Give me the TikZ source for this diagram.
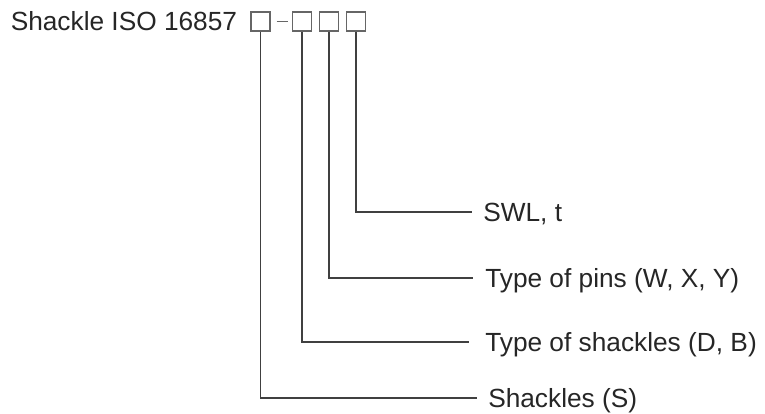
\documentclass[tikz,border=0pt]{standalone}
\usepackage{fontspec}
\setmainfont{Liberation Sans}
\usetikzlibrary{positioning}
\tikzset{
    every node/.style={font=\fontsize{19.7}{23}\selectfont, text=black!85},
    slot/.style={draw=black!60, line width=0.9pt, minimum size=14.25pt, inner sep=0pt},
    fieldtext/.style={anchor=west, inner ysep=0pt, text height=14.1pt, text depth=0pt},
    lead/.style={draw=black!75, line width=1.2pt},
}

\begin{document}
\begin{tikzpicture}[x=0.75pt, y=-0.75pt]
\useasboundingbox (0,0) rectangle (765,414);

% designation line with the four blank slots
\node[anchor=base west, inner sep=0pt] (title) at (10.5,31) {Shackle ISO 16857};
\node[slot] (s1) at (260.5,21.5) {};
\node[slot, right=15.75pt of s1] (s2) {};
\node[slot, right=5.25pt of s2] (s3) {};
\node[slot, right=5.25pt of s3] (s4) {};
\draw[draw=black!60, line width=0.8pt] ([xshift=4.5pt]s1.east) -- ([xshift=-3pt]s2.west);

% meaning of each slot
\foreach \name/\x/\y/\gap/\text in {swl/472/212/8.25pt/{SWL, t},
                                    pins/473/278/9pt/{Type of pins (W, X, Y)},
                                    kind/469/342/12pt/{Type of shackles (D, B)},
                                    shackles/477/398/8.25pt/{Shackles (S)}}{
  \node[fieldtext, inner xsep=\gap] (\name) at (\x,\y) {\text};
}

\foreach \slot/\name in {4/swl, 3/pins, 2/kind, 1/shackles}{
  \draw[lead] (s\slot.south) |- (\name.west);
}

\end{tikzpicture}
\end{document}
